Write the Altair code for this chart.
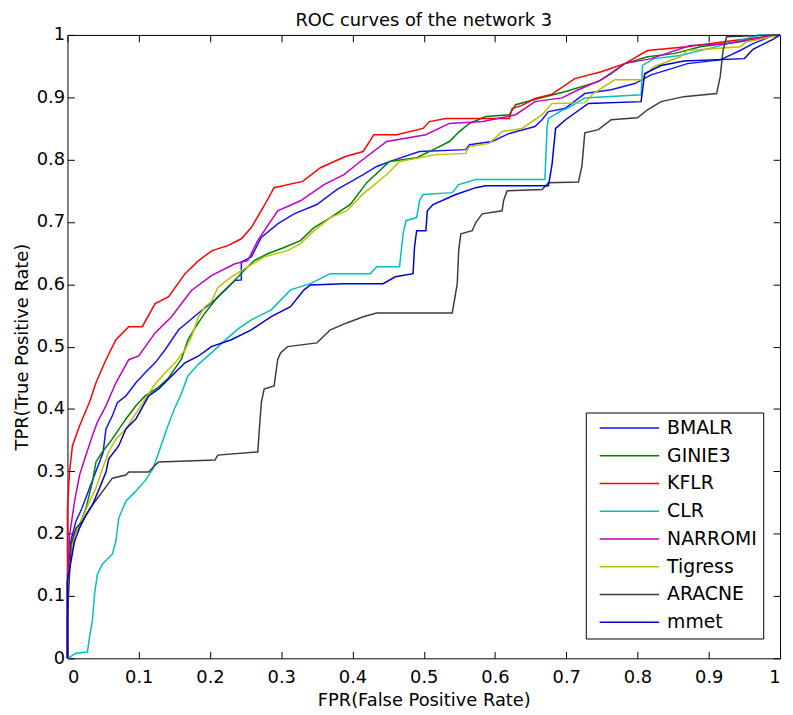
import altair as alt
import pandas as pd

methods = ["BMALR", "GINIE3", "KFLR", "CLR", "NARROMI", "Tigress", "ARACNE", "mmet"]
colors = ["#1414ff", "#008000", "#ff0000", "#00bfbf", "#bf00bf", "#bfbf00", "#3c3c3c", "#0000cd"]
tick_values = [0, 0.1, 0.2, 0.3, 0.4, 0.5, 0.6, 0.7, 0.8, 0.9, 1.0]

BMALR_fpr = [0, 0, 0.005, 0.012, 0.02, 0.03, 0.04, 0.05, 0.054, 0.063, 0.07, 0.082, 0.096, 0.109, 0.123, 0.137, 0.156, 0.184, 0.207, 0.235, 0.244, 0.244, 0.258, 0.272, 0.295, 0.318, 0.35, 0.378, 0.415, 0.434, 0.46, 0.494, 0.559, 0.564, 0.596, 0.62, 0.656, 0.666, 0.675, 0.698, 0.726, 0.763, 0.796, 0.819, 0.842, 0.87, 0.916, 0.944, 0.962, 0.99, 1.0]
BMALR_tpr = [0, 0.12, 0.19, 0.22, 0.24, 0.27, 0.30, 0.33, 0.368, 0.389, 0.41, 0.421, 0.442, 0.458, 0.474, 0.495, 0.527, 0.554, 0.575, 0.606, 0.607, 0.636, 0.644, 0.675, 0.697, 0.713, 0.728, 0.752, 0.776, 0.789, 0.80, 0.813, 0.816, 0.824, 0.829, 0.842, 0.853, 0.864, 0.877, 0.882, 0.906, 0.912, 0.922, 0.936, 0.944, 0.954, 0.96, 0.975, 0.986, 0.999, 1.0]

GINIE3_fpr = [0, 0, 0.01, 0.017, 0.026, 0.035, 0.04, 0.049, 0.063, 0.082, 0.096, 0.109, 0.128, 0.142, 0.151, 0.16, 0.169, 0.179, 0.193, 0.211, 0.23, 0.248, 0.262, 0.281, 0.304, 0.327, 0.346, 0.369, 0.397, 0.42, 0.452, 0.49, 0.517, 0.536, 0.55, 0.564, 0.587, 0.62, 0.629, 0.661, 0.698, 0.745, 0.763, 0.782, 0.814, 0.851, 0.888, 0.944, 0.98, 1.0]
GINIE3_tpr = [0, 0.135, 0.198, 0.214, 0.241, 0.283, 0.315, 0.331, 0.352, 0.384, 0.405, 0.421, 0.435, 0.45, 0.465, 0.48, 0.511, 0.53, 0.554, 0.58, 0.601, 0.622, 0.638, 0.649, 0.659, 0.67, 0.691, 0.707, 0.728, 0.763, 0.797, 0.803, 0.818, 0.829, 0.845, 0.858, 0.869, 0.872, 0.888, 0.898, 0.909, 0.925, 0.938, 0.954, 0.965, 0.97, 0.981, 0.989, 0.997, 1.0]

KFLR_fpr = [0, 0, 0.003, 0.007, 0.017, 0.031, 0.04, 0.054, 0.068, 0.086, 0.105, 0.123, 0.142, 0.165, 0.184, 0.203, 0.225, 0.244, 0.258, 0.276, 0.29, 0.33, 0.355, 0.39, 0.415, 0.43, 0.462, 0.499, 0.508, 0.531, 0.62, 0.624, 0.638, 0.656, 0.68, 0.712, 0.749, 0.782, 0.814, 0.869, 0.935, 0.98, 1.0]
KFLR_tpr = [0, 0.24, 0.30, 0.341, 0.373, 0.411, 0.442, 0.479, 0.511, 0.532, 0.532, 0.569, 0.58, 0.617, 0.638, 0.654, 0.662, 0.673, 0.691, 0.726, 0.755, 0.765, 0.787, 0.805, 0.813, 0.84, 0.84, 0.85, 0.861, 0.866, 0.866, 0.882, 0.887, 0.898, 0.905, 0.93, 0.941, 0.954, 0.975, 0.981, 0.991, 0.997, 1.0]

CLR_fpr = [0, 0.012, 0.028, 0.031, 0.035, 0.038, 0.042, 0.049, 0.063, 0.068, 0.072, 0.082, 0.095, 0.109, 0.12, 0.128, 0.14, 0.15, 0.16, 0.169, 0.184, 0.202, 0.221, 0.239, 0.258, 0.286, 0.313, 0.341, 0.369, 0.425, 0.434, 0.466, 0.471, 0.475, 0.49, 0.494, 0.499, 0.54, 0.549, 0.573, 0.67, 0.673, 0.675, 0.694, 0.703, 0.726, 0.805, 0.807, 0.823, 0.86, 0.9, 0.94, 0.97, 1.0]
CLR_tpr = [0, 0.008, 0.01, 0.034, 0.061, 0.103, 0.135, 0.151, 0.167, 0.188, 0.225, 0.252, 0.267, 0.285, 0.304, 0.33, 0.37, 0.40, 0.425, 0.453, 0.472, 0.49, 0.51, 0.528, 0.543, 0.559, 0.591, 0.601, 0.617, 0.617, 0.628, 0.628, 0.681, 0.702, 0.707, 0.734, 0.744, 0.747, 0.76, 0.768, 0.768, 0.85, 0.866, 0.879, 0.883, 0.899, 0.904, 0.951, 0.962, 0.967, 0.978, 0.99, 1.0, 1.0]

NARROMI_fpr = [0, 0, 0.003, 0.01, 0.017, 0.026, 0.035, 0.042, 0.054, 0.068, 0.086, 0.1, 0.123, 0.146, 0.174, 0.202, 0.235, 0.253, 0.267, 0.295, 0.327, 0.36, 0.388, 0.411, 0.448, 0.503, 0.536, 0.583, 0.629, 0.656, 0.694, 0.717, 0.749, 0.782, 0.819, 0.874, 0.925, 0.98, 1.0]
NARROMI_tpr = [0, 0.114, 0.198, 0.252, 0.294, 0.326, 0.357, 0.379, 0.405, 0.442, 0.479, 0.485, 0.522, 0.548, 0.59, 0.614, 0.633, 0.638, 0.67, 0.718, 0.734, 0.76, 0.776, 0.797, 0.829, 0.84, 0.858, 0.861, 0.872, 0.893, 0.899, 0.912, 0.928, 0.954, 0.962, 0.983, 0.986, 0.997, 1.0]

Tigress_fpr = [0, 0, 0.003, 0.007, 0.012, 0.021, 0.031, 0.04, 0.049, 0.058, 0.068, 0.082, 0.1, 0.123, 0.137, 0.151, 0.165, 0.174, 0.184, 0.193, 0.202, 0.211, 0.23, 0.253, 0.276, 0.309, 0.327, 0.346, 0.369, 0.392, 0.415, 0.448, 0.466, 0.517, 0.559, 0.564, 0.592, 0.61, 0.638, 0.666, 0.68, 0.726, 0.738, 0.768, 0.805, 0.823, 0.86, 0.87, 0.944, 0.953, 0.98, 1.0]
Tigress_tpr = [0, 0.103, 0.145, 0.183, 0.204, 0.225, 0.252, 0.273, 0.304, 0.331, 0.352, 0.368, 0.4, 0.44, 0.458, 0.474, 0.495, 0.516, 0.548, 0.564, 0.572, 0.595, 0.612, 0.628, 0.644, 0.654, 0.665, 0.686, 0.707, 0.718, 0.745, 0.776, 0.797, 0.808, 0.81, 0.821, 0.826, 0.845, 0.85, 0.872, 0.89, 0.891, 0.906, 0.928, 0.928, 0.949, 0.965, 0.975, 0.981, 0.989, 0.995, 1.0]

ARACNE_fpr = [0, 0, 0.005, 0.012, 0.021, 0.035, 0.054, 0.063, 0.082, 0.086, 0.114, 0.123, 0.128, 0.207, 0.211, 0.267, 0.272, 0.276, 0.29, 0.295, 0.299, 0.309, 0.35, 0.369, 0.392, 0.415, 0.434, 0.54, 0.547, 0.549, 0.552, 0.568, 0.573, 0.582, 0.61, 0.612, 0.617, 0.666, 0.675, 0.717, 0.722, 0.726, 0.745, 0.763, 0.8, 0.814, 0.833, 0.865, 0.911, 0.916, 0.92, 0.925, 0.994, 1.0]
ARACNE_tpr = [0, 0.066, 0.183, 0.209, 0.22, 0.246, 0.275, 0.289, 0.294, 0.299, 0.299, 0.31, 0.315, 0.318, 0.326, 0.331, 0.41, 0.432, 0.437, 0.479, 0.49, 0.5, 0.506, 0.527, 0.538, 0.548, 0.554, 0.554, 0.601, 0.654, 0.681, 0.686, 0.699, 0.713, 0.718, 0.734, 0.75, 0.752, 0.763, 0.764, 0.79, 0.843, 0.848, 0.864, 0.867, 0.88, 0.893, 0.901, 0.906, 0.933, 0.975, 0.997, 1.0, 1.0]

mmet_fpr = [0, 0, 0.005, 0.01, 0.017, 0.026, 0.035, 0.045, 0.054, 0.058, 0.072, 0.082, 0.096, 0.114, 0.128, 0.142, 0.165, 0.184, 0.202, 0.23, 0.258, 0.286, 0.313, 0.332, 0.341, 0.388, 0.443, 0.46, 0.485, 0.487, 0.49, 0.503, 0.505, 0.513, 0.545, 0.573, 0.587, 0.675, 0.68, 0.685, 0.699, 0.731, 0.805, 0.81, 0.833, 0.865, 0.95, 0.962, 0.99, 1.0]
mmet_tpr = [0, 0.124, 0.156, 0.188, 0.209, 0.23, 0.246, 0.273, 0.299, 0.32, 0.341, 0.368, 0.384, 0.421, 0.432, 0.448, 0.474, 0.485, 0.5, 0.511, 0.527, 0.548, 0.564, 0.591, 0.599, 0.601, 0.601, 0.612, 0.617, 0.659, 0.686, 0.686, 0.718, 0.728, 0.744, 0.755, 0.758, 0.758, 0.792, 0.85, 0.864, 0.89, 0.893, 0.938, 0.951, 0.958, 0.962, 0.977, 0.993, 1.0]

series = {
    "BMALR": (BMALR_fpr, BMALR_tpr),
    "GINIE3": (GINIE3_fpr, GINIE3_tpr),
    "KFLR": (KFLR_fpr, KFLR_tpr),
    "CLR": (CLR_fpr, CLR_tpr),
    "NARROMI": (NARROMI_fpr, NARROMI_tpr),
    "Tigress": (Tigress_fpr, Tigress_tpr),
    "ARACNE": (ARACNE_fpr, ARACNE_tpr),
    "mmet": (mmet_fpr, mmet_tpr),
}

rows = []
for m in methods:
    fpr, tpr = series[m]
    if len(fpr) != len(tpr):
        raise ValueError(f"length mismatch for {m}: {len(fpr)} vs {len(tpr)}")
    for i, (a, b) in enumerate(zip(fpr, tpr)):
        rows.append({"method": m, "fpr": a, "tpr": b, "idx": i})
df = pd.DataFrame(rows)

W, H = 719, 629
FONT = "DejaVu Sans"
xs = alt.Scale(domain=[0, 1], nice=False, zero=False)
ys = alt.Scale(domain=[0, 1], nice=False, zero=False)

label_axis = dict(values=tick_values, format=".1~f", ticks=False, tickSize=0, domain=False, grid=False,
                  labelFont=FONT, labelFontSize=18, labelColor="black",
                  titleFont=FONT, titleFontSize=18, titleFontWeight="normal", titleColor="black")

lines = alt.Chart(df).mark_line(strokeWidth=1.5).encode(
    x=alt.X("fpr:Q", scale=xs,
            axis=alt.Axis(title="FPR(False Positive Rate)", labelPadding=10, titlePadding=6, **label_axis)),
    y=alt.Y("tpr:Q", scale=ys,
            axis=alt.Axis(title="TPR(True Positive Rate)", labelPadding=3, titlePadding=5, **label_axis)),
    color=alt.Color("method:N", scale=alt.Scale(domain=methods, range=colors),
                    legend=alt.Legend(title=None, orient="none", legendX=523, legendY=381,
                                      symbolType="stroke", symbolSize=3600, symbolStrokeWidth=1.5,
                                      clipHeight=19, rowPadding=8, padding=6, symbolOffset=7,
                                      labelOffset=7, labelFont=FONT, labelFontSize=19,
                                      labelColor="black", strokeColor="black", fillColor="white",
                                      cornerRadius=0, labelLimit=300)),
    order="idx:Q",
)

tick_axis = dict(values=tick_values, labels=False, domain=False, grid=False, ticks=True,
                 tickSize=7, tickColor="black", tickWidth=1, title=None)

ticks_a = alt.Chart(df).mark_line(opacity=0).encode(
    x=alt.X("fpr:Q", scale=xs, axis=alt.Axis(orient="top", offset=-H, **tick_axis)),
    y=alt.Y("tpr:Q", scale=ys, axis=alt.Axis(orient="right", offset=-W, **tick_axis)),
    detail="method:N",
)
ticks_b = alt.Chart(df).mark_line(opacity=0).encode(
    x=alt.X("fpr:Q", scale=xs, axis=alt.Axis(orient="bottom", offset=-H, **tick_axis)),
    y=alt.Y("tpr:Q", scale=ys, axis=alt.Axis(orient="left", offset=-W, **tick_axis)),
    detail="method:N",
)

chart = alt.layer(lines, ticks_a, ticks_b).resolve_axis(
    x="independent", y="independent"
).properties(
    width=W, height=H,
    autosize=alt.AutoSizeParams(type="none"),
    padding={"left": 60, "top": 24, "right": 5, "bottom": 52},
    title=alt.TitleParams("ROC curves of the network 3", font=FONT, fontSize=18, fontWeight="normal",
                          color="black", anchor="middle", baseline="alphabetic", offset=6, dy=24),
).configure_view(stroke="black", strokeWidth=1)

chart.save("out.html", embed_options={"renderer": "svg", "actions": False})
